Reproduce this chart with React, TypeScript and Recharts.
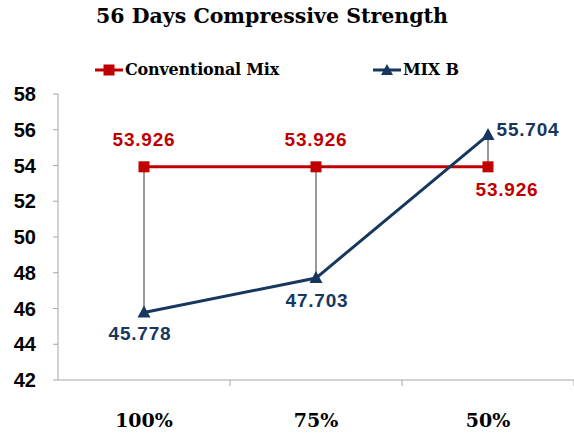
import { LineChart, Line, XAxis, YAxis, ReferenceLine, LabelList } from "recharts"

const categories = ["100%", "75%", "50%"]
const conventionalMix = [53.926, 53.926, 53.926]
const mixB = [45.778, 47.703, 55.704]
const yTicks = [42, 44, 46, 48, 50, 52, 54, 56, 58]

const RED = "#C00000"
const NAVY = "#17375E"
const SERIF = "'DejaVu Serif', serif"
const SANS = "'Liberation Sans', Arial, sans-serif"

const data = categories.map((name, i) => ({
  name,
  conventional: conventionalMix[i],
  mixB: mixB[i],
}))

// per-point label offsets (dx, dy) relative to the marker
const convOffsets = [
  [0, -27],
  [0, -27],
  [19, 23],
]
const mixBOffsets = [
  [-4, 21],
  [1, 22],
  [40, -6],
]

function SquareDot(props: any) {
  const { cx, cy } = props
  return <rect x={cx - 5.5} y={cy - 5.5} width={11} height={11} fill={RED} />
}

function TriangleDot(props: any) {
  const { cx, cy } = props
  return (
    <path
      d={`M${cx},${cy - 7} L${cx + 6.5},${cy + 5} L${cx - 6.5},${cy + 5} Z`}
      fill={NAVY}
    />
  )
}

function makeLabel(color: string, offsets: number[][]) {
  return (props: any) => {
    const { x, y, value, index } = props
    const [dx, dy] = offsets[index]
    return (
      <text
        x={x + dx}
        y={y + dy}
        textAnchor="middle"
        dominantBaseline="central"
        fill={color}
        fontFamily={SANS}
        fontWeight="bold"
        fontSize={19}
        letterSpacing={0.8}
      >
        {value.toFixed(3)}
      </text>
    )
  }
}

function CategoryTick(props: any) {
  const { x, y, payload } = props
  return (
    <g>
      <line x1={x + 86} y1={y - 8} x2={x + 86} y2={y - 2} stroke="#A6A6A6" />
      <text
        x={x}
        y={y + 32}
        textAnchor="middle"
        dominantBaseline="central"
        fontFamily={SERIF}
        fontWeight="bold"
        fontSize={19}
        fill="#000"
      >
        {payload.value}
      </text>
    </g>
  )
}

function LegendItem({ color, label, marker }: { color: string; label: string; marker: "square" | "triangle" }) {
  return (
    <div style={{ display: "flex", alignItems: "center" }}>
      <svg width={28} height={14}>
        <line x1={0} y1={7} x2={28} y2={7} stroke={color} strokeWidth={3} />
        {marker === "square" ? (
          <rect x={8.5} y={1.5} width={11} height={11} fill={color} />
        ) : (
          <path d="M14,1 L20,12 L8,12 Z" fill={color} />
        )}
      </svg>
      <span style={{ fontFamily: SERIF, fontWeight: "bold", fontSize: 16, marginLeft: 2, letterSpacing: -0.2 }}>{label}</span>
    </div>
  )
}

export default function App() {
  return (
    <div style={{ position: "absolute", left: 0, top: 0, width: 574, height: 433, background: "#fff" }}>
      <div
        style={{
          position: "absolute",
          top: 4,
          left: 0,
          width: 544,
          textAlign: "center",
          fontFamily: SERIF,
          fontWeight: "bold",
          fontSize: 20.5,
          color: "#000",
        }}
      >
        56 Days Compressive Strength
      </div>
      <div style={{ position: "absolute", top: 60, left: 95 }}>
        <LegendItem color={RED} label="Conventional Mix" marker="square" />
      </div>
      <div style={{ position: "absolute", top: 60, left: 373 }}>
        <LegendItem color={NAVY} label="MIX B" marker="triangle" />
      </div>
      <LineChart
        width={574}
        height={433}
        data={data}
        margin={{ top: 94, right: 0, bottom: 0, left: 0 }}
      >
        <XAxis
          dataKey="name"
          height={53}
          stroke="#A6A6A6"
          tickLine={false}
          tick={<CategoryTick />}
          interval={0}
          padding={{ left: 86, right: 86 }}
        />
        <YAxis
          domain={[42, 58]}
          ticks={yTicks}
          width={58}
          stroke="#A6A6A6"
          tickSize={5}
          tick={{ fontFamily: SANS, fontWeight: "bold", fontSize: 20, fill: "#000" }}
          tickMargin={17}
        />
        {categories.map((c, i) => (
          <ReferenceLine
            key={c}
            segment={[
              { x: c, y: conventionalMix[i] },
              { x: c, y: mixB[i] },
            ]}
            stroke="#333"
            strokeWidth={1}
          />
        ))}
        <Line
          dataKey="conventional"
          stroke={RED}
          strokeWidth={3}
          dot={<SquareDot />}
          isAnimationActive={false}
        >
          <LabelList dataKey="conventional" content={makeLabel(RED, convOffsets)} />
        </Line>
        <Line
          dataKey="mixB"
          stroke={NAVY}
          strokeWidth={3}
          dot={<TriangleDot />}
          isAnimationActive={false}
        >
          <LabelList dataKey="mixB" content={makeLabel(NAVY, mixBOffsets)} />
        </Line>
      </LineChart>
    </div>
  )
}
